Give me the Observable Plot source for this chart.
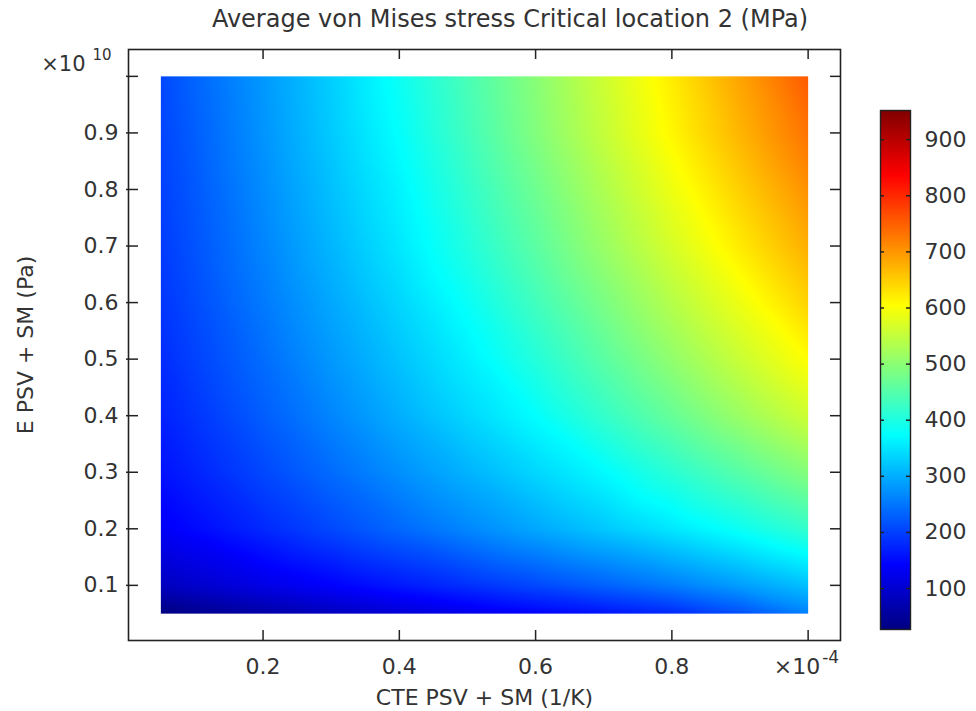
<!DOCTYPE html>
<html>
<head>
<meta charset="utf-8">
<script src="https://cdn.jsdelivr.net/npm/d3@7"></script>
<script src="https://cdn.jsdelivr.net/npm/@observablehq/plot@0.6"></script>
<style>
  html, body { margin: 0; padding: 0; background: #fff; }
  #wrap { position: relative; width: 976px; height: 711px; overflow: hidden; font-family: "DejaVu Sans", sans-serif; }
  #main { position: absolute; left: 0; top: 0; width: 860px; height: 711px; }
  #bar { position: absolute; left: 860px; top: 0; width: 116px; height: 711px; }
  #title { position: absolute; left: 0; top: 7px; width: 1020px; text-align: center; font-size: 24px; line-height: 24px; color: #333; white-space: nowrap; }
  svg { max-width: none !important; }
</style>
</head>
<body>
<div id="wrap">
  <div id="main"></div>
  <div id="bar"></div>
  <div id="title"></div>
</div>
<script>
// ---- Data ----
const titleText = "Average von Mises stress Critical location 2 (MPa)";
const xLabel = "CTE PSV + SM (1/K)";
const yLabel = "E PSV + SM (Pa)";

// CTE in units of 1e-4 1/K
const cteValues = [0.05, 0.1, 0.2, 0.3, 0.4, 0.5, 0.6, 0.7, 0.8, 0.9, 1.0];
// E in units of 1e10 Pa
const eValues = [0.05, 0.1, 0.2, 0.3, 0.4, 0.5, 0.6, 0.7, 0.8, 0.9, 1.0];

// stress (MPa), one row per E value, columns follow cteValues
const stressE005 = [27, 40, 62, 84, 105, 124, 143, 160, 180, 215, 260];
const stressE010 = [85, 97, 120, 142, 164, 186, 208, 231, 256, 286, 318];
const stressE020 = [135, 150, 179, 208, 237, 266, 295, 324, 353, 384, 420];
const stressE030 = [158, 174, 207, 240, 273, 305, 338, 371, 412, 453, 495];
const stressE040 = [172, 190, 227, 264, 301, 338, 375, 421, 467, 514, 560];
const stressE050 = [182, 202, 241, 281, 320, 360, 406, 456, 506, 556, 606];
const stressE060 = [190, 211, 253, 295, 337, 381, 433, 485, 538, 590, 645];
const stressE070 = [196, 218, 263, 308, 353, 403, 457, 513, 568, 623, 678];
const stressE080 = [200, 223, 270, 317, 364, 418, 474, 532, 590, 648, 705];
const stressE090 = [204, 228, 277, 326, 376, 433, 492, 552, 612, 672, 732];
const stressE100 = [207, 234, 281, 330, 384, 440, 498, 560, 622, 688, 755];

const xTicks = [0.2, 0.4, 0.6, 0.8, 1.0];
const xTickLabels = [0.2, 0.4, 0.6, 0.8];
const yTicks = [0.1, 0.2, 0.3, 0.4, 0.5, 0.6, 0.7, 0.8, 0.9, 1.0];
const yTickLabels = [0.1, 0.2, 0.3, 0.4, 0.5, 0.6, 0.7, 0.8, 0.9];
const colorTicks = [100, 200, 300, 400, 500, 600, 700, 800, 900];
const colorRange = [27, 952];

// ---- Build table ----
const stressRows = [stressE005, stressE010, stressE020, stressE030, stressE040, stressE050,
                    stressE060, stressE070, stressE080, stressE090, stressE100];
const table = [];
eValues.forEach((e, i) => cteValues.forEach((c, j) => table.push({cte: c, e: e, v: stressRows[i][j]})));

// jet colour map as a piecewise linear scale
const [cmin, cmax] = colorRange;
const span = cmax - cmin;
const colorScale = {
  type: "linear",
  domain: [cmin, cmin + 0.125 * span, cmin + 0.375 * span, cmin + 0.625 * span, cmin + 0.875 * span, cmax],
  range: ["#000080", "#0000ff", "#00ffff", "#ffff00", "#ff0000", "#800000"],
  interpolate: "rgb",
  clamp: true
};

const W = 860, H = 711, mL = 128, mR = 20, mT = 49, mB = 71;
const frameW = W - mL - mR, frameH = H - mT - mB;
const pad = 0.05 * (d3.max(cteValues) - d3.min(cteValues));
const xDom = [d3.min(cteValues) - pad, d3.max(cteValues) + pad];
const yPad = 0.05 * (d3.max(eValues) - d3.min(eValues));
const yDom = [d3.min(eValues) - yPad, d3.max(eValues) + yPad];
const ink = "#222";
const txt = "#333";

const main = Plot.plot({
  width: W, height: H,
  marginLeft: mL, marginRight: mR, marginTop: mT, marginBottom: mB,
  style: {fontFamily: "DejaVu Sans, sans-serif", fontSize: "22px", color: ink, background: "white"},
  x: {domain: xDom},
  y: {domain: yDom},
  color: colorScale,
  marks: [
    Plot.raster(table, {
      x: "cte", y: "e", fill: "v",
      x1: d3.min(cteValues), x2: d3.max(cteValues),
      y1: d3.min(eValues), y2: d3.max(eValues),
      interpolate: "barycentric", pixelSize: 1
    }),
    Plot.frame({stroke: ink, strokeWidth: 1.6}),
    Plot.tickX(xTicks, {x: d => d, insetTop: frameH - 10, stroke: ink, strokeWidth: 1.5}),
    Plot.tickX(xTicks, {x: d => d, insetBottom: frameH - 10, stroke: ink, strokeWidth: 1.5}),
    Plot.tickY(yTicks, {y: d => d, insetRight: frameW - 10, insetLeft: -2, stroke: ink, strokeWidth: 1.5}),
    Plot.tickY(yTicks, {y: d => d, insetLeft: frameW - 10, stroke: ink, strokeWidth: 1.5}),
    Plot.axisX(xTickLabels, {anchor: "bottom", tickSize: 0, tickPadding: 18, tickFormat: d => d.toFixed(1), fontSize: 22, label: null, fill: txt}),
    Plot.axisY(yTickLabels, {anchor: "left", tickSize: 0, tickPadding: 10, tickFormat: d => d.toFixed(1), fontSize: 22, label: null, fill: txt}),
    Plot.text([xLabel], {text: d => d, frameAnchor: "bottom", textAnchor: "middle", lineAnchor: "middle", dy: 57, fontSize: 22, fill: txt}),
    Plot.text([yLabel], {text: d => d, frameAnchor: "left", textAnchor: "middle", lineAnchor: "middle", rotate: -90, dx: -103, fontSize: 22, fill: txt}),
    Plot.text(["×10"], {text: d => d, frameAnchor: "top-left", textAnchor: "end", lineAnchor: "middle", dx: -43, dy: 15, fontSize: 21, fill: txt}),
    Plot.text(["10"], {text: d => d, frameAnchor: "top-left", textAnchor: "start", lineAnchor: "middle", dx: -36, dy: 6, fontSize: 15, fill: txt}),
    Plot.text([1.0], {x: d => d, text: () => "×10", frameAnchor: "bottom", textAnchor: "end", lineAnchor: "middle", dx: 12, dy: 26, fontSize: 22, fill: txt}),
    Plot.text([1.0], {x: d => d, text: () => "-4", frameAnchor: "bottom", textAnchor: "start", lineAnchor: "middle", dx: 14, dy: 17.5, fontSize: 17, fill: txt})
  ]
});
document.getElementById("main").appendChild(main);

const BW = 116, bL = 20, bR = 66, bT = 110, bB = 82;
const bar = Plot.plot({
  width: BW, height: H,
  marginLeft: bL, marginRight: bR, marginTop: bT, marginBottom: bB,
  style: {fontFamily: "DejaVu Sans, sans-serif", fontSize: "22px", color: ink, background: "white"},
  x: {domain: [0, 1], axis: null},
  y: {domain: colorRange},
  color: colorScale,
  marks: [
    Plot.raster({fill: (x, y) => y, x1: 0, x2: 1, y1: cmin, y2: cmax, pixelSize: 1}),
    Plot.frame({stroke: ink, strokeWidth: 1.4}),
    Plot.tickY(colorTicks, {y: d => d, insetRight: 26, stroke: ink, strokeWidth: 1.5}),
    Plot.tickY(colorTicks, {y: d => d, insetLeft: 26, stroke: ink, strokeWidth: 1.5}),
    Plot.axisY(colorTicks, {anchor: "right", tickSize: 0, tickPadding: 14, fontSize: 22, label: null, fill: txt})
  ]
});
document.getElementById("bar").appendChild(bar);

document.getElementById("title").textContent = titleText;
</script>
</body>
</html>
